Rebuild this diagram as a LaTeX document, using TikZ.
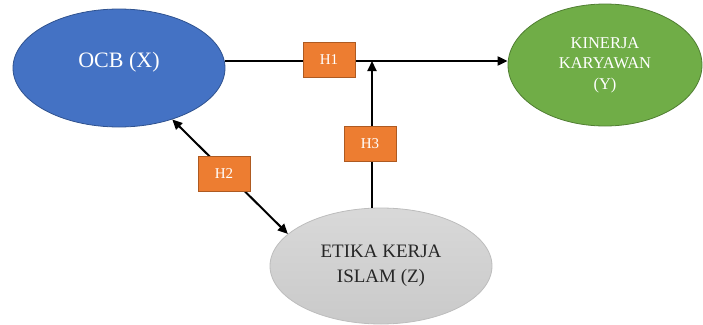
\documentclass[tikz,border=0pt]{standalone}
\usepackage{fontspec}
\setmainfont{Liberation Serif}
\usetikzlibrary{arrows.meta,shapes.geometric}
\definecolor{ocbblue}{HTML}{4472C4}
\definecolor{ocbborder}{HTML}{2F528F}
\definecolor{kgreen}{HTML}{70AD47}
\definecolor{kborder}{HTML}{507E32}
\definecolor{hor}{HTML}{ED7D31}
\definecolor{horb}{HTML}{AE5A21}
\definecolor{gborder}{HTML}{BDBDBD}
\definecolor{gtext}{HTML}{262626}
\tikzset{
  var/.style={ellipse, inner sep=0pt, line width=0.8pt, align=center},
  hbox/.style={rectangle, fill=hor, draw=horb, line width=0.8pt, minimum width=52pt, minimum height=35pt, inner sep=0pt, text=white, font=\fontsize{15}{18}\selectfont},
  link/.style={line width=2pt, black},
  tip/.style={-{Triangle[length=10pt,width=9pt]}},
  tips/.style={{Triangle[length=10pt,width=9pt]}-{Triangle[length=10pt,width=9pt]}}
}
\begin{document}
\begin{tikzpicture}[x=1pt,y=-1pt]
\useasboundingbox (0,0) rectangle (703,324);
\node[var, fill=ocbblue, draw=ocbborder, minimum width=212pt, minimum height=118pt] (ocb) at (119,68) {};
\node[text=white, font=\fontsize{22}{26}\selectfont] (ocbt) at (119,62) {OCB (X)};
\node[var, fill=kgreen, draw=kborder, minimum width=194pt, minimum height=122pt, text=white, font=\fontsize{16.5}{20.5}\selectfont] (kin) at (605,65) {KINERJA\\KARYAWAN\\(Y)};
\node[var, top color=gray!30, bottom color=gray!42, draw=gborder, minimum width=222pt, minimum height=116pt, text=gtext, font=\fontsize{19}{25}\selectfont] (eti) at (381,266) {ETIKA KERJA\\ISLAM (Z)};
\coordinate (j) at (372,61);
\draw[link, tip] (ocb.east |- j) -- (kin.west |- j);
\draw[link, tip] (eti.north -| j) -- (j);
\draw[link, tips] (ocb.-44) -- (eti.161);
\node[hbox] (h1) at (329,60) {H1};
\node[hbox] (h3) at (370,144) {H3};
\node[hbox] (h2) at (224,174) {H2};
\end{tikzpicture}
\end{document}
